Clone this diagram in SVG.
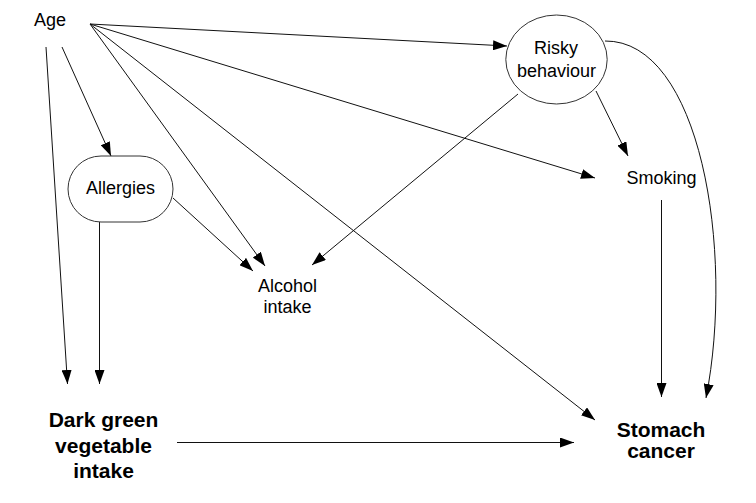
<svg xmlns="http://www.w3.org/2000/svg" width="756" height="503" viewBox="0 0 756 503">
<defs>
<style>
.lbl{font-family:"Liberation Sans",Arial,sans-serif;font-size:18px;fill:#000;text-anchor:middle}
.big{font-family:"Liberation Sans",Arial,sans-serif;font-size:21px;font-weight:bold;fill:#000;text-anchor:middle}
.shape{fill:#fff;stroke:#333;stroke-width:1}
.edge{fill:none;stroke:#111;stroke-width:1;marker-end:url(#arr)}
</style>
<marker id="arr" markerUnits="userSpaceOnUse" markerWidth="14" markerHeight="10" refX="14" refY="5" orient="auto" viewBox="0 0 14 10">
<path d="M0,0 L14,5 L0,10 z" fill="#000"/>
</marker>
</defs>
<rect width="756" height="503" fill="#fff"/>
<g id="connectors">
<line class="edge" x1="46" y1="47" x2="67.5" y2="384"/>
<line class="edge" x1="62" y1="47" x2="111" y2="156"/>
<line class="edge" x1="90" y1="24" x2="507" y2="46"/>
<line class="edge" x1="90" y1="24" x2="595" y2="178"/>
<line class="edge" x1="90" y1="24" x2="265" y2="266"/>
<line class="edge" x1="90" y1="24" x2="595" y2="420"/>
<line class="edge" x1="99.5" y1="222" x2="99.5" y2="384"/>
<line class="edge" x1="173" y1="198" x2="253" y2="271"/>
<line class="edge" x1="518" y1="94" x2="312" y2="265"/>
<line class="edge" x1="596" y1="91" x2="628" y2="156"/>
<path class="edge" d="M605,41 C700,40 735,250 706,398"/>
<line class="edge" x1="661.5" y1="200" x2="661.5" y2="397"/>
<line class="edge" x1="177" y1="442.5" x2="574" y2="442.5"/>
</g>
<g id="age"><text class="lbl" x="50" y="26">Age</text></g>
<g id="risky">
<ellipse class="shape" cx="556.5" cy="59.5" rx="50.7" ry="44.5"/>
<text class="lbl" x="556" y="54">Risky</text>
<text class="lbl" x="556.5" y="76.5">behaviour</text>
</g>
<g id="allergies">
<rect class="shape" x="68" y="156" width="105" height="66" rx="33" ry="33"/>
<text class="lbl" x="120.5" y="194">Allergies</text>
</g>
<g id="alcohol">
<text class="lbl" x="287.5" y="292">Alcohol</text>
<text class="lbl" x="287.5" y="313">intake</text>
</g>
<g id="smoking"><text class="lbl" x="661.5" y="184">Smoking</text></g>
<g id="vegetable">
<text class="big" x="103.5" y="427">Dark green</text>
<text class="big" x="103.5" y="453">vegetable</text>
<text class="big" x="103.5" y="478">intake</text>
</g>
<g id="stomach">
<text class="big" x="661" y="437">Stomach</text>
<text class="big" x="661" y="458">cancer</text>
</g>
</svg>
